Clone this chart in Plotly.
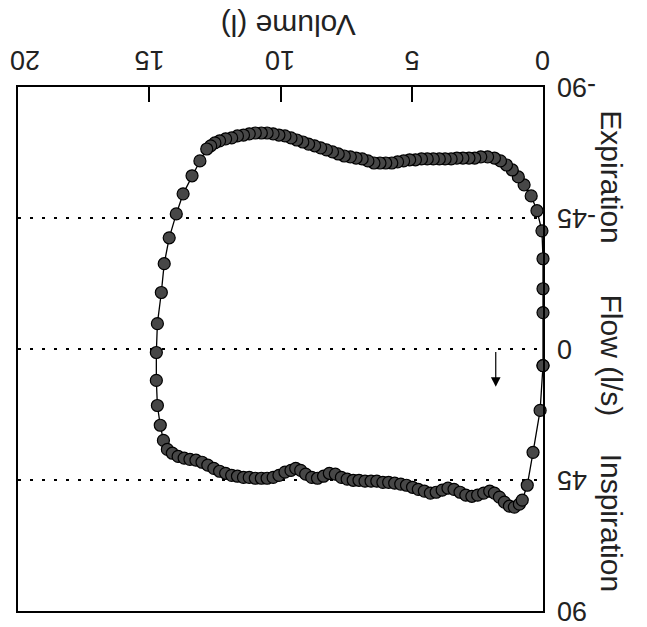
import plotly.graph_objects as go

# Flow-volume loop (figure shown rotated 180 degrees)
volume = [0.00, 0.00, 0.00, 0.00, 0.04, 0.23, 0.45, 0.72, 0.94, 1.17, 1.39, 1.62, 1.85, 2.11,
          2.37, 2.60, 2.82, 3.05, 3.28, 3.50, 3.73, 3.95, 4.18, 4.41, 4.63, 4.86, 5.08, 5.31,
          5.54, 5.76, 5.99, 6.21, 6.44, 6.67, 6.89, 7.12, 7.34, 7.57, 7.80, 8.02, 8.25, 8.47,
          8.70, 8.93, 9.15, 9.38, 9.60, 9.83, 10.06, 10.28, 10.51, 10.73, 10.96, 11.19, 11.41,
          11.64, 11.86, 12.09, 12.32, 12.50, 12.66, 12.81,
          13.07, 13.37, 13.71, 13.97, 14.24, 14.43, 14.54, 14.69, 14.73, 14.73, 14.69, 14.58, 14.46,
          14.31, 14.12, 13.90, 13.67, 13.45, 13.22, 12.99, 12.77, 12.54, 12.32, 12.09, 11.86,
          11.64, 11.41, 11.19, 10.96, 10.73, 10.51, 10.28, 10.06, 9.83, 9.60, 9.42, 9.23, 9.04,
          8.81, 8.59, 8.36, 8.14, 7.91, 7.68, 7.46, 7.23, 7.01, 6.78, 6.55, 6.33, 6.10, 5.88,
          5.65, 5.42, 5.20, 4.97, 4.75, 4.52, 4.29, 4.07, 3.84, 3.62, 3.39, 3.16, 2.94, 2.71,
          2.49, 2.26, 2.03, 1.85, 1.66, 1.47, 1.28, 1.09, 0.90, 0.79, 0.60, 0.38, 0.11, 0.00]
flow = [5.7, -12.5, -20.7, -31.0, -40.6, -47.5, -52.6, -56.4, -59.1, -61.5, -63.2, -64.6, -65.6, -66.0,
        -66.0, -65.6, -65.6, -65.6, -65.6, -65.3, -65.3, -65.3, -65.3, -65.3, -65.3, -65.0, -65.0, -64.6,
        -64.3, -63.9, -63.9, -63.9, -63.9, -64.6, -65.3, -65.6, -66.0, -66.3, -67.0, -67.7, -68.4, -69.1,
        -69.8, -70.4, -71.1, -71.8, -72.5, -73.2, -73.5, -73.9, -74.2, -74.2, -74.2, -73.9, -73.5,
        -73.2, -72.5, -72.2, -71.5, -70.8, -69.8, -68.7,
        -64.6, -59.5, -53.3, -46.4, -38.2, -29.3, -19.4, -8.7, 1.2, 10.8, 19.4, 26.2, 31.4,
        34.5, 35.8, 36.9, 37.5, 37.9, 38.2, 38.9, 39.9, 41.0, 42.0, 42.7, 43.4,
        43.7, 44.1, 44.1, 44.4, 44.4, 44.4, 44.1, 43.4, 42.3, 41.7, 41.0, 41.7, 43.0,
        44.1, 44.4, 43.7, 42.7, 43.0, 44.1, 44.7, 45.1, 45.1, 45.4, 45.4, 45.4, 45.8, 45.8,
        46.1, 46.4, 46.8, 47.5, 48.2, 48.8, 49.5, 49.2, 48.5, 47.8, 48.2, 49.2, 50.2, 50.6,
        50.2, 49.5, 48.8, 49.5, 50.9, 52.6, 54.0, 54.3, 53.3, 51.9, 46.8, 35.5, 21.1, 5.7]

x_ticks = [0, 5, 10, 15, 20]
x_tick_labels = ["0", "5", "10", "15", "20"]
y_ticks = [-90, -45, 0, 45, 90]
y_tick_labels = ["-90", "-45", "0", "45", "90"]
arrow_vol = 1.8
arrow_flow = [0.5, 13.0]

FONT = "Liberation Sans, Arial, sans-serif"
TXT = "#222"

fig = go.Figure()
fig.add_trace(go.Scatter(
    x=volume, y=flow, mode="lines+markers",
    line=dict(color="black", width=1.3),
    marker=dict(size=12, color="#474747", line=dict(color="black", width=1.2)),
    showlegend=False, hoverinfo="skip", cliponaxis=False))

fig.update_layout(
    width=647, height=627,
    margin=dict(l=10, r=112, t=79, b=24),
    paper_bgcolor="white", plot_bgcolor="white",
    font=dict(family=FONT, size=27, color=TXT),
    xaxis=dict(range=[20, 0], side="top", tickvals=x_ticks, showticklabels=False,
               showline=True, linecolor="black", linewidth=1.5, mirror=True,
               ticks="inside", ticklen=15, tickcolor="black", tickwidth=1.5,
               showgrid=False, zeroline=False, automargin=False),
    yaxis=dict(range=[90, -90], side="right", tickvals=y_ticks, showticklabels=False,
               showline=True, linecolor="black", linewidth=1.5, mirror=True,
               ticks="", showgrid=True, gridcolor="black", gridwidth=2,
               griddash="3px,9px", zeroline=False, automargin=False),
)

# tick labels drawn upside down (the whole figure is rotated 180 degrees)
for v, lab in zip(x_ticks, x_tick_labels):
    fig.add_annotation(xref="x", yref="paper", x=v, y=1, yshift=27,
                       xshift=(7 if v == 20 else 0),
                       text=lab, textangle=180, showarrow=False,
                       font=dict(size=27), xanchor="center", yanchor="middle")
for v, lab in zip(y_ticks, y_tick_labels):
    fig.add_annotation(xref="paper", yref="y", x=1, y=v, xshift=12,
                       text=lab, textangle=180, showarrow=False,
                       font=dict(size=27), xanchor="left", yanchor="middle")

fig.add_annotation(xref="paper", yref="paper", x=0.514, y=1.117, text="Volume (l)",
                   textangle=180, showarrow=False, font=dict(size=30), xanchor="center", yanchor="middle")
for label, ypos in [("Expiration", 0.828), ("Flow (l/s)", 0.488), ("Inspiration", 0.169)]:
    fig.add_annotation(xref="paper", yref="paper", x=1.131, y=ypos, text=label,
                       textangle=90, showarrow=False, font=dict(size=30),
                       xanchor="center", yanchor="middle")

fig.add_annotation(x=arrow_vol, y=arrow_flow[1], ax=arrow_vol, ay=arrow_flow[0],
                   xref="x", yref="y", axref="x", ayref="y", text="", showarrow=True,
                   arrowhead=2, arrowsize=1.6, arrowwidth=1.2, arrowcolor="black")

fig.write_html("out.html")
